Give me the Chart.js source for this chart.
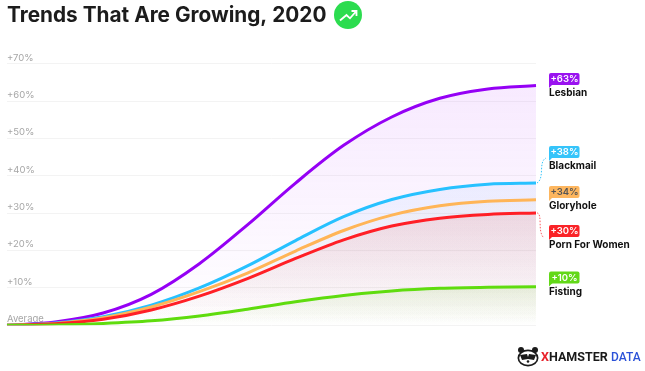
<!DOCTYPE html>
<html>
<head>
<meta charset="utf-8">
<title>Trends That Are Growing, 2020</title>
<script src="https://cdn.jsdelivr.net/npm/chart.js@4"></script>
<style>
  html, body { margin: 0; padding: 0; background: #fff; }
  canvas { display: block; }
</style>
</head>
<body>
<canvas id="trendChart" width="645" height="371"></canvas>
<script>
const months = ['Jan', 'Feb', 'Mar', 'Apr', 'May', 'Jun', 'Jul', 'Aug', 'Sep', 'Oct', 'Nov', 'Dec'];
const tickLabels = ['Average', '+10%', '+20%', '+30%', '+40%', '+50%', '+60%', '+70%'];

const lesbian = [0, 0.9, 3.3, 8.3, 16.5, 26.9, 38.1, 48.2, 55.8, 60.8, 63.3, 64.2];
const blackmail = [0, 0.6, 2.3, 5.4, 10, 15.9, 22.7, 29.1, 33.7, 36.4, 37.8, 38.1];
const gloryhole = [0, 0.5, 2, 4.9, 9, 14, 19.9, 25.4, 29.5, 32, 33.2, 33.6];
const pornForWomen = [0, 0.4, 1.6, 4.1, 7.8, 12.5, 17.9, 22.9, 26.6, 28.7, 29.7, 30.1];
const fisting = [0, 0.1, 0.5, 1.2, 2.5, 4.3, 6.3, 8, 9.2, 9.9, 10.2, 10.3];

const seriesNames = ['Lesbian', 'Blackmail', 'Gloryhole', 'Porn For Women', 'Fisting'];
const seriesBadges = ['+63%', '+38%', '+34%', '+30%', '+10%'];
const titleFont = 'Inter, sans-serif';

// fill fades out towards the baseline
function fade(rgb, topAlpha, bottomAlpha, values) {
    return function(context) {
        const { chartArea, scales } = context.chart;
        if (!chartArea) return 'transparent';
        const top = scales.y.getPixelForValue(Math.max(...values));
        const g = context.chart.ctx.createLinearGradient(0, top, 0, chartArea.bottom);
        g.addColorStop(0, `rgba(${rgb},${topAlpha})`);
        g.addColorStop(1, `rgba(${rgb},${bottomAlpha})`);
        return g;
    };
}

function series(label, values, color, rgb, topAlpha, bottomAlpha) {
    return {
        label: label,
        data: values,
        borderColor: color,
        borderWidth: 3,
        pointRadius: 0,
        tension: 0.33,
        fill: 'origin',
        backgroundColor: fade(rgb, topAlpha, bottomAlpha, values)
    };
}

function roundRect(ctx, x, y, w, h, r) {
    ctx.beginPath();
    ctx.roundRect(x, y, w, h, r);
    ctx.fill();
}

// badge + name column on the right, dotted links and the logo
const annotations = {
    id: 'annotations',
    afterDraw(chart) {
        const ctx = chart.ctx;
        const y = chart.scales.y;
        const badges = [
            { top: 73, color: '#9a12f0', text: '#fff', nameY: 93 },
            { top: 146, color: '#35c4fa', text: '#fff', nameY: 166 },
            { top: 186, color: '#fdb65f', text: '#555', nameY: 206 },
            { top: 225, color: '#fa2327', text: '#fff', nameY: 245 },
            { top: 271.5, color: '#62d818', text: '#fff', nameY: 292 }
        ];
        ctx.save();
        badges.forEach((b, i) => {
            ctx.fillStyle = b.color;
            roundRect(ctx, 549, b.top, 30.5, 12, 2);
            ctx.beginPath();
            ctx.moveTo(549, b.top + 8);
            ctx.lineTo(549, b.top + 15);
            ctx.lineTo(553, b.top + 11);
            ctx.fill();
            ctx.fillStyle = b.text;
            ctx.font = `600 9.5px ${titleFont}`;
            ctx.textAlign = 'center';
            ctx.textBaseline = 'middle';
            ctx.fillText(seriesBadges[i], 564.5, b.top + 6.5);
            ctx.fillStyle = '#111';
            ctx.font = `700 10px ${titleFont}`;
            ctx.textAlign = 'left';
            ctx.fillText(seriesNames[i], 549, b.nameY);
        });

        // dotted links from the line ends to the moved labels
        ctx.lineWidth = 1;
        ctx.setLineDash([1.5, 1.5]);
        ctx.strokeStyle = '#35c4fa';
        ctx.beginPath();
        ctx.moveTo(537, y.getPixelForValue(blackmail[11]));
        ctx.bezierCurveTo(545, 178, 538, 162, 546, 158);
        ctx.stroke();
        ctx.strokeStyle = '#fa5a5f';
        ctx.beginPath();
        ctx.moveTo(537, y.getPixelForValue(pornForWomen[11]));
        ctx.bezierCurveTo(543, 214, 537, 232, 544, 238);
        ctx.stroke();
        ctx.setLineDash([]);

        // growth icon next to the title
        ctx.fillStyle = '#2cdc4f';
        ctx.beginPath();
        ctx.arc(348, 15, 14, 0, Math.PI * 2);
        ctx.fill();
        ctx.strokeStyle = '#fff';
        ctx.lineWidth = 1.8;
        ctx.beginPath();
        ctx.moveTo(340, 20.5);
        ctx.lineTo(346.5, 15);
        ctx.lineTo(350, 18.3);
        ctx.lineTo(356, 11.5);
        ctx.moveTo(351.5, 11);
        ctx.lineTo(356.5, 11);
        ctx.lineTo(356.5, 16);
        ctx.stroke();

        // logo head: ears, white face, dark mask, muzzle
        ctx.fillStyle = '#1a1a1a';
        [[521, 350], [535, 350]].forEach(p => {
            ctx.beginPath();
            ctx.arc(p[0], p[1], 3, 0, Math.PI * 2);
            ctx.fill();
        });
        ctx.beginPath();
        ctx.ellipse(528, 358, 10.5, 8.5, 0, 0, Math.PI * 2);
        ctx.fill();
        ctx.fillStyle = '#fff';
        ctx.beginPath();
        ctx.ellipse(528, 358, 8.8, 6.8, 0, 0, Math.PI * 2);
        ctx.fill();
        ctx.fillStyle = '#1a1a1a';
        ctx.beginPath();
        ctx.moveTo(520, 355);
        ctx.lineTo(527, 354);
        ctx.lineTo(528, 357);
        ctx.lineTo(529, 354);
        ctx.lineTo(536, 355);
        ctx.lineTo(534, 360);
        ctx.lineTo(528, 359);
        ctx.lineTo(522, 360);
        ctx.closePath();
        ctx.fill();
        ctx.beginPath();
        ctx.arc(528, 361.5, 1.3, 0, Math.PI * 2);
        ctx.fill();

        ctx.font = '700 12.5px Roboto, sans-serif';
        ctx.textAlign = 'left';
        ctx.textBaseline = 'middle';
        ctx.fillStyle = '#e8202a';
        ctx.fillText('X', 541, 358);
        ctx.fillStyle = '#1a1a1a';
        ctx.fillText('HAMSTER', 549, 358);
        ctx.fillStyle = '#2b52d8';
        ctx.font = '500 12px Roboto, sans-serif';
        ctx.fillText('DATA', 611, 358);
        ctx.restore();
    }
};

new Chart(document.getElementById('trendChart'), {
    type: 'line',
    data: {
        labels: months,
        // first dataset is painted last
        datasets: [
            series('Fisting', fisting, '#5fdc0e', '110,200,40', 0.13, 0),
            series('Porn For Women', pornForWomen, '#ff1f26', '230,40,30', 0.11, 0),
            series('Gloryhole', gloryhole, '#ffb557', '170,150,90', 0.04, 0),
            series('Blackmail', blackmail, '#27c1ff', '60,150,255', 0.08, 0),
            series('Lesbian', lesbian, '#9500f5', '190,80,250', 0.12, 0)
        ]
    },
    plugins: [annotations],
    options: {
        responsive: false,
        animation: false,
        layout: { padding: { left: 7, right: 109, top: 0, bottom: 45.7 } },
        plugins: {
            legend: { display: false },
            tooltip: { enabled: false },
            title: {
                display: true,
                text: 'Trends That Are Growing, 2020',
                align: 'start',
                color: '#1c1c1c',
                font: { family: 'Inter', size: 20.8, weight: '700', lineHeight: 1.2 },
                padding: { top: 3, bottom: 36 }
            }
        },
        scales: {
            x: { display: false, offset: false },
            y: {
                min: 0,
                max: 70,
                border: { display: false },
                grid: { color: '#f3f3f3', drawTicks: false },
                ticks: {
                    stepSize: 10,
                    mirror: true,
                    padding: 0,
                    labelOffset: -6,
                    color: '#a6a6a6',
                    font: { family: 'Inter', size: 9.5, weight: '400' },
                    callback: (v, i) => tickLabels[i]
                }
            }
        }
    }
});
</script>
</body>
</html>
